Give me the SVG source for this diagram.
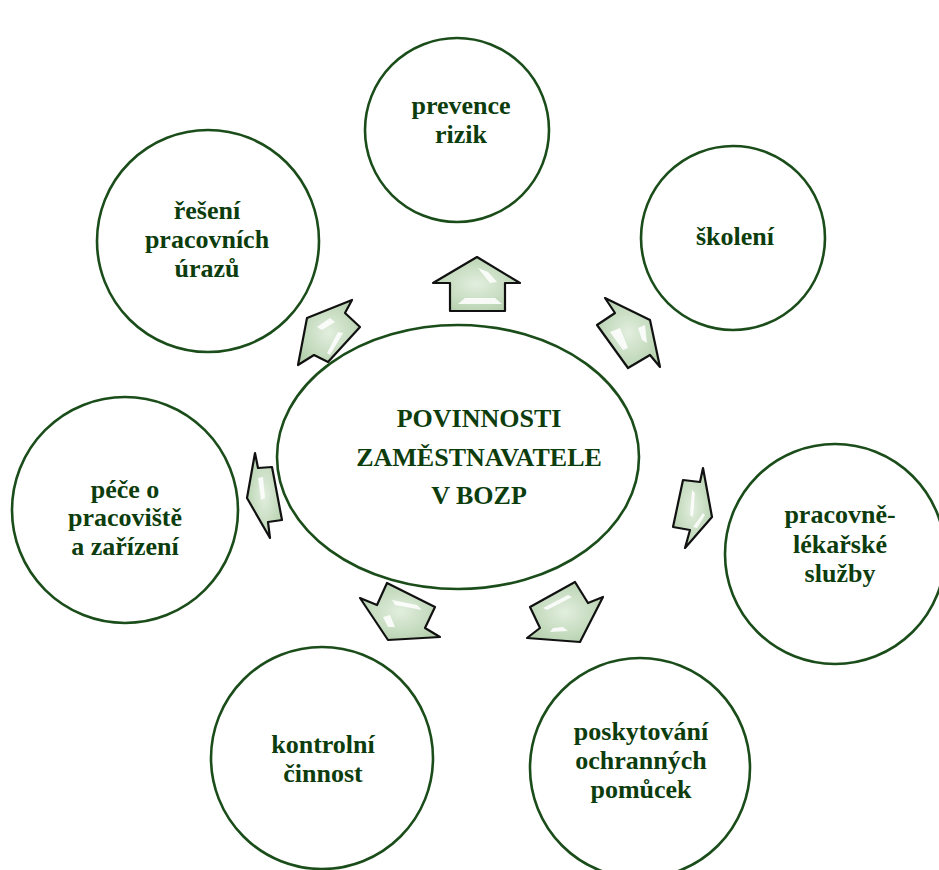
<svg xmlns="http://www.w3.org/2000/svg" width="939" height="870" viewBox="0 0 939 870">
<defs>
<radialGradient id="ag" cx="50%" cy="50%" r="60%">
<stop offset="0" stop-color="#e2eede"/>
<stop offset="0.6" stop-color="#c6dcc0"/>
<stop offset="1" stop-color="#b3cfab"/>
</radialGradient>
</defs>
<style>
.node{fill:#ffffff;stroke:#1a4d1a;stroke-width:2.6}
.lbl{font-family:"Liberation Serif","Times New Roman",serif;font-weight:bold;font-size:26px;fill:#0d3d0d;text-anchor:middle}
.arr{fill:url(#ag);stroke:#111111;stroke-width:2.2;stroke-linejoin:round}
.hl{fill:#ffffff;opacity:0.85}
</style>
<rect width="939" height="870" fill="#ffffff"/>

<g id="connectors">
<g id="arrow-prevence">
<polygon class="arr" points="477,257 520,283 505,283 505,311 450,311 450,283 433,283"/>
<polygon class="hl" points="478,268 488,272 497,282 490,283"/>
<polygon class="hl" points="465,298 495,298 502,304 458,304"/>
</g>
<g id="arrow-reseni">
<polygon class="arr" points="307,318 352,300 345,313 360,327 328,362 314,355 298,365"/>
<polygon class="hl" points="317,327 330,318 335,322 322,330"/>
<polygon class="hl" points="338,332 343,333 330,355 327,353"/>
</g>
<g id="arrow-skoleni">
<polygon class="arr" points="605,298 650,320 660,367 650,355 628,368 597,325 615,313"/>
<polygon class="hl" points="610,332 620,328 628,348 623,350"/>
<polygon class="hl" points="638,328 645,325 647,343 642,340"/>
</g>
<g id="arrow-pece">
<polygon class="arr" points="255,453 258,468 272,467 282,520 268,522 270,538 247,498"/>
<polygon class="hl" points="258,478 263,477 265,498 261,500"/>
</g>
<g id="arrow-lekarske">
<polygon class="arr" points="703,468 700,482 683,480 673,527 690,530 685,548 712,517"/>
<polygon class="hl" points="692,490 695,493 693,517 690,515"/>
<polygon class="hl" points="693,527 703,513 705,515 697,528"/>
</g>
<g id="arrow-kontrolni">
<polygon class="arr" points="360,598 377,605 387,583 435,607 425,628 440,637 388,640"/>
<polygon class="hl" points="392,600 417,605 422,610 395,605"/>
<polygon class="hl" points="383,617 390,615 395,627 388,627"/>
</g>
<g id="arrow-poskytovani">
<polygon class="arr" points="527,638 540,628 530,607 575,582 588,603 603,597 580,642"/>
<polygon class="hl" points="543,608 568,595 572,597 547,610"/>
<polygon class="hl" points="553,628 563,627 568,631 550,632"/>
</g>
</g>

<g id="center">
<ellipse class="node" cx="458" cy="457" rx="181" ry="132"/>
<text class="lbl" x="479" y="427">POVINNOSTI</text>
<text class="lbl" x="479" y="466">ZAMĚSTNAVATELE</text>
<text class="lbl" x="479" y="504">V BOZP</text>
</g>

<g id="prevence">
<circle class="node" cx="457" cy="130" r="92"/>
<text class="lbl" x="461" y="114">prevence</text>
<text class="lbl" x="461" y="143">rizik</text>
</g>

<g id="skoleni">
<circle class="node" cx="733" cy="238" r="92"/>
<text class="lbl" x="735" y="245">školení</text>
</g>

<g id="reseni">
<circle class="node" cx="208" cy="241" r="111"/>
<text class="lbl" x="207" y="219">řešení</text>
<text class="lbl" x="207" y="248">pracovních</text>
<text class="lbl" x="207" y="277">úrazů</text>
</g>

<g id="pece">
<circle class="node" cx="125" cy="510" r="113"/>
<text class="lbl" x="125" y="498">péče o</text>
<text class="lbl" x="125" y="526">pracoviště</text>
<text class="lbl" x="125" y="555">a zařízení</text>
</g>

<g id="lekarske">
<circle class="node" cx="835" cy="554" r="110"/>
<text class="lbl" x="840" y="523">pracovně-</text>
<text class="lbl" x="840" y="553">lékařské</text>
<text class="lbl" x="840" y="582">služby</text>
</g>

<g id="kontrolni">
<circle class="node" cx="322" cy="758" r="111"/>
<text class="lbl" x="323" y="753">kontrolní</text>
<text class="lbl" x="323" y="782">činnost</text>
</g>

<g id="poskytovani">
<circle class="node" cx="640" cy="768" r="110"/>
<text class="lbl" x="641" y="740">poskytování</text>
<text class="lbl" x="641" y="769">ochranných</text>
<text class="lbl" x="641" y="798">pomůcek</text>
</g>
</svg>
